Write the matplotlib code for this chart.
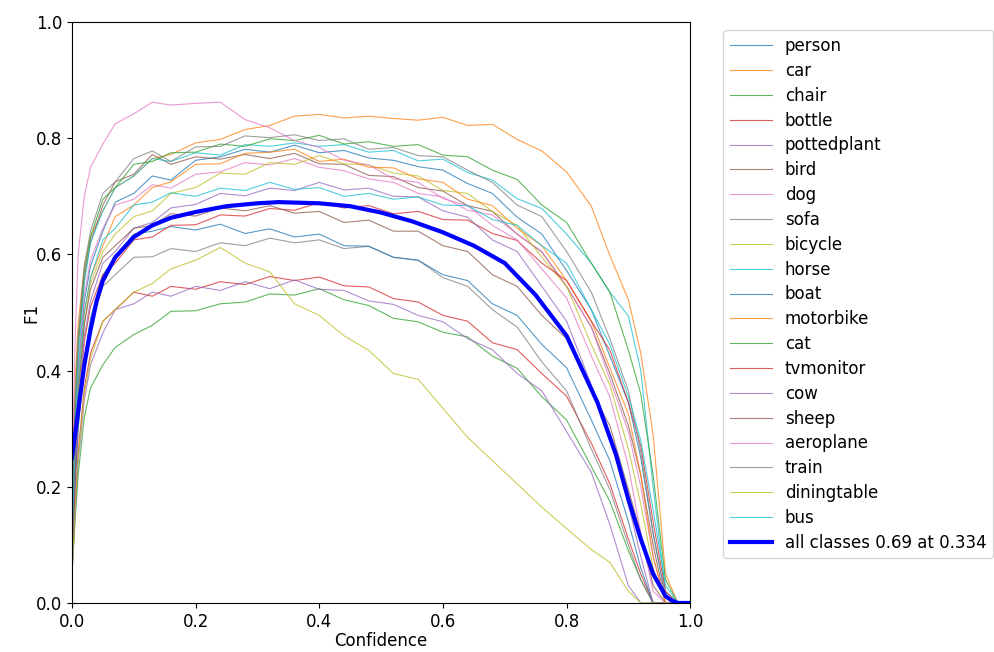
import numpy as np
import matplotlib
matplotlib.use("Agg")
import matplotlib.pyplot as plt

plt.rcParams['font.size'] = 12

# Confidence grid for the per class curves
conf = [0.0, 0.005, 0.01, 0.02, 0.03, 0.05, 0.07, 0.1, 0.13, 0.16, 0.2, 0.24, 0.28, 0.32, 0.36, 0.4, 0.44,
        0.48, 0.52, 0.56, 0.6, 0.64, 0.68, 0.72, 0.76, 0.8, 0.84, 0.87, 0.9, 0.92, 0.94, 0.96, 0.98, 1.0]

names = ['person', 'car', 'chair', 'bottle', 'pottedplant', 'bird', 'dog', 'sofa', 'bicycle', 'horse',
         'boat', 'motorbike', 'cat', 'tvmonitor', 'cow', 'sheep', 'aeroplane', 'train', 'diningtable', 'bus']

person = [0.10, 0.28, 0.40, 0.52, 0.58, 0.64, 0.69, 0.705, 0.735, 0.728, 0.762, 0.768, 0.781, 0.776, 0.788, 0.775, 0.779,
          0.766, 0.762, 0.751, 0.745, 0.722, 0.705, 0.664, 0.635, 0.572, 0.505, 0.425, 0.345, 0.25, 0.12, 0.01, 0.0, 0.0]
car = [0.22, 0.38, 0.48, 0.58, 0.63, 0.675, 0.715, 0.735, 0.765, 0.772, 0.792, 0.798, 0.815, 0.822, 0.838, 0.841, 0.835,
       0.838, 0.834, 0.831, 0.836, 0.822, 0.824, 0.798, 0.778, 0.742, 0.683, 0.598, 0.522, 0.43, 0.29, 0.05, 0.0, 0.0]
chair = [0.05, 0.14, 0.22, 0.32, 0.37, 0.41, 0.44, 0.462, 0.478, 0.502, 0.503, 0.515, 0.518, 0.532, 0.53, 0.541, 0.522,
         0.512, 0.49, 0.484, 0.466, 0.458, 0.425, 0.404, 0.355, 0.315, 0.235, 0.175, 0.09, 0.04, 0.0, 0.0, 0.0, 0.0]
bottle = [0.06, 0.17, 0.26, 0.37, 0.43, 0.485, 0.505, 0.535, 0.528, 0.545, 0.54, 0.553, 0.548, 0.562, 0.555, 0.561, 0.546,
          0.544, 0.524, 0.518, 0.495, 0.485, 0.448, 0.436, 0.395, 0.356, 0.275, 0.205, 0.11, 0.05, 0.0, 0.0, 0.0, 0.0]
pottedplant = [0.05, 0.15, 0.24, 0.35, 0.41, 0.465, 0.505, 0.515, 0.535, 0.528, 0.545, 0.538, 0.553, 0.541, 0.556, 0.54,
               0.538, 0.52, 0.514, 0.495, 0.484, 0.455, 0.436, 0.395, 0.365, 0.295, 0.225, 0.135, 0.03, 0.0, 0.0, 0.0, 0.0, 0.0]
bird = [0.12, 0.32, 0.44, 0.56, 0.62, 0.685, 0.725, 0.738, 0.772, 0.755, 0.768, 0.764, 0.772, 0.765, 0.774, 0.756, 0.755,
        0.736, 0.734, 0.715, 0.709, 0.684, 0.674, 0.635, 0.604, 0.545, 0.475, 0.395, 0.305, 0.22, 0.10, 0.0, 0.0, 0.0]
dog = [0.10, 0.28, 0.40, 0.53, 0.59, 0.645, 0.685, 0.695, 0.72, 0.714, 0.738, 0.742, 0.758, 0.754, 0.765, 0.75, 0.744,
       0.73, 0.724, 0.705, 0.699, 0.676, 0.668, 0.635, 0.605, 0.545, 0.475, 0.385, 0.295, 0.20, 0.08, 0.0, 0.0, 0.0]
sofa = [0.06, 0.20, 0.30, 0.42, 0.48, 0.545, 0.565, 0.595, 0.596, 0.61, 0.605, 0.62, 0.615, 0.628, 0.62, 0.625, 0.61,
        0.614, 0.595, 0.59, 0.56, 0.545, 0.505, 0.475, 0.415, 0.365, 0.265, 0.195, 0.10, 0.04, 0.0, 0.0, 0.0, 0.0]
bicycle = [0.08, 0.24, 0.36, 0.48, 0.55, 0.605, 0.635, 0.665, 0.675, 0.705, 0.715, 0.74, 0.738, 0.758, 0.755, 0.77, 0.756,
           0.754, 0.74, 0.735, 0.71, 0.705, 0.674, 0.65, 0.595, 0.545, 0.445, 0.375, 0.265, 0.17, 0.06, 0.0, 0.0, 0.0]
horse = [0.12, 0.30, 0.42, 0.55, 0.62, 0.675, 0.715, 0.735, 0.765, 0.76, 0.775, 0.771, 0.789, 0.786, 0.792, 0.786, 0.789,
         0.776, 0.779, 0.761, 0.764, 0.741, 0.728, 0.696, 0.679, 0.635, 0.585, 0.535, 0.494, 0.40, 0.20, 0.02, 0.0, 0.0]
boat = [0.07, 0.20, 0.30, 0.42, 0.49, 0.565, 0.595, 0.635, 0.64, 0.648, 0.642, 0.652, 0.636, 0.644, 0.63, 0.635, 0.615,
        0.614, 0.595, 0.59, 0.565, 0.555, 0.515, 0.495, 0.445, 0.405, 0.315, 0.245, 0.14, 0.06, 0.0, 0.0, 0.0, 0.0]
motorbike = [0.10, 0.26, 0.38, 0.50, 0.56, 0.615, 0.665, 0.685, 0.715, 0.725, 0.755, 0.756, 0.774, 0.776, 0.781, 0.76,
             0.764, 0.75, 0.749, 0.73, 0.724, 0.695, 0.684, 0.645, 0.615, 0.555, 0.485, 0.405, 0.325, 0.22, 0.08, 0.0, 0.0, 0.0]
cat = [0.15, 0.35, 0.45, 0.57, 0.63, 0.695, 0.715, 0.755, 0.76, 0.775, 0.776, 0.79, 0.786, 0.799, 0.796, 0.805, 0.79,
       0.794, 0.786, 0.789, 0.771, 0.768, 0.745, 0.729, 0.685, 0.655, 0.585, 0.535, 0.435, 0.36, 0.22, 0.04, 0.0, 0.0]
tvmonitor = [0.08, 0.22, 0.33, 0.45, 0.51, 0.565, 0.585, 0.625, 0.63, 0.65, 0.651, 0.668, 0.666, 0.679, 0.676, 0.689,
             0.68, 0.684, 0.67, 0.674, 0.66, 0.659, 0.636, 0.624, 0.585, 0.555, 0.485, 0.435, 0.345, 0.27, 0.14, 0.02, 0.0, 0.0]
cow = [0.08, 0.22, 0.34, 0.46, 0.52, 0.585, 0.605, 0.645, 0.655, 0.68, 0.686, 0.705, 0.701, 0.714, 0.71, 0.724, 0.711,
       0.714, 0.70, 0.699, 0.675, 0.664, 0.625, 0.605, 0.545, 0.485, 0.375, 0.285, 0.17, 0.08, 0.0, 0.0, 0.0, 0.0]
sheep = [0.09, 0.25, 0.36, 0.48, 0.54, 0.595, 0.615, 0.645, 0.65, 0.67, 0.666, 0.68, 0.675, 0.684, 0.671, 0.674, 0.655,
         0.659, 0.64, 0.64, 0.615, 0.605, 0.565, 0.545, 0.495, 0.455, 0.365, 0.305, 0.195, 0.12, 0.03, 0.0, 0.0, 0.0]
aeroplane = [0.18, 0.45, 0.60, 0.70, 0.75, 0.79, 0.825, 0.842, 0.862, 0.857, 0.86, 0.862, 0.832, 0.818, 0.796, 0.784,
             0.762, 0.754, 0.73, 0.724, 0.696, 0.684, 0.65, 0.625, 0.575, 0.525, 0.425, 0.355, 0.235, 0.12, 0.02, 0.0, 0.0, 0.0]
train = [0.14, 0.34, 0.46, 0.58, 0.64, 0.705, 0.725, 0.765, 0.778, 0.76, 0.785, 0.786, 0.804, 0.801, 0.806, 0.796, 0.799,
         0.781, 0.784, 0.77, 0.768, 0.745, 0.724, 0.685, 0.665, 0.605, 0.535, 0.455, 0.365, 0.26, 0.12, 0.01, 0.0, 0.0]
diningtable = [0.05, 0.16, 0.25, 0.36, 0.42, 0.485, 0.505, 0.535, 0.55, 0.575, 0.59, 0.612, 0.585, 0.57, 0.515, 0.495,
               0.46, 0.435, 0.395, 0.385, 0.335, 0.285, 0.245, 0.205, 0.165, 0.128, 0.092, 0.07, 0.02, 0.0, 0.0, 0.0, 0.0, 0.0]
bus = [0.10, 0.27, 0.38, 0.50, 0.56, 0.625, 0.645, 0.685, 0.69, 0.706, 0.70, 0.714, 0.71, 0.724, 0.712, 0.715, 0.70,
       0.705, 0.695, 0.699, 0.685, 0.684, 0.66, 0.65, 0.615, 0.585, 0.505, 0.445, 0.355, 0.28, 0.16, 0.03, 0.0, 0.0]

curves = [person, car, chair, bottle, pottedplant, bird, dog, sofa, bicycle, horse,
          boat, motorbike, cat, tvmonitor, cow, sheep, aeroplane, train, diningtable, bus]

# all classes mean curve
conf_all = [0.0, 0.005, 0.01, 0.02, 0.03, 0.04, 0.05, 0.07, 0.1, 0.13, 0.16, 0.2, 0.25, 0.3, 0.334, 0.4, 0.45,
            0.5, 0.55, 0.6, 0.65, 0.7, 0.75, 0.8, 0.85, 0.88, 0.9, 0.92, 0.94, 0.96, 0.97, 0.98, 1.0]
f1_all = [0.25, 0.29, 0.33, 0.41, 0.47, 0.52, 0.555, 0.595, 0.63, 0.65, 0.663, 0.673, 0.683, 0.688, 0.69, 0.688,
          0.683, 0.672, 0.657, 0.638, 0.615, 0.585, 0.53, 0.46, 0.345, 0.255, 0.178, 0.11, 0.05, 0.012, 0.004, 0.0, 0.0]

fig = plt.figure(figsize=(9.94, 6.52), dpi=100)
ax = fig.add_axes([0.0724, 0.0752, 0.622, 0.891])

for name, y in zip(names, curves):
    ax.plot(conf, y, linewidth=0.8, alpha=0.75, label=name)

ax.plot(conf_all, f1_all, linewidth=3, color='blue', label='all classes 0.69 at 0.334')

ax.set_xlabel('Confidence', labelpad=1)
ax.set_ylabel('F1', labelpad=-3)
ax.set_xlim(0, 1)
ax.set_ylim(0, 1)
ax.legend(bbox_to_anchor=(1.04, 1), loc='upper left', labelspacing=0.41, handlelength=2.5)

fig.savefig('out.png', dpi=100)
